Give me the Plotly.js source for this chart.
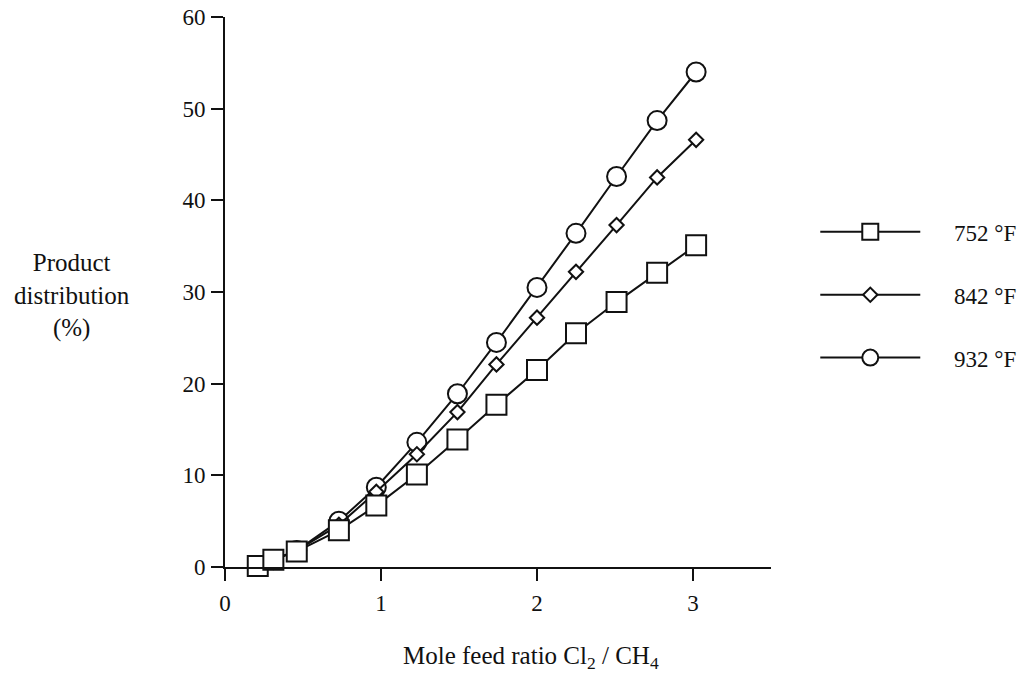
<!DOCTYPE html>
<html>
<head>
<meta charset="utf-8">
<script src="https://cdn.plot.ly/plotly-3.0.1.min.js"></script>
<style>html,body{margin:0;padding:0;background:#fff;}#chart{width:1032px;height:683px;}</style>
</head>
<body>
<div id="chart"></div>
<script>
// Mole feed ratio Cl2/CH4
const ratio = [0.21, 0.31, 0.46, 0.73, 0.97, 1.23, 1.49, 1.74, 2.00, 2.25, 2.51, 2.77, 3.02];
// Product distribution (%)
const dist752 = [0.1, 0.8, 1.7, 4.0, 6.7, 10.1, 13.9, 17.7, 21.5, 25.5, 28.9, 32.1, 35.1];
const dist842 = [0.1, 0.8, 1.8, 4.6, 8.2, 12.3, 16.9, 22.1, 27.2, 32.2, 37.3, 42.5, 46.6];
const dist932 = [0.1, 0.8, 1.8, 5.0, 8.7, 13.6, 18.9, 24.5, 30.5, 36.4, 42.6, 48.7, 54.0];
const seriesNames = ['752 °F', '842 °F', '932 °F'];
const xTicks = [0, 1, 2, 3];
const yTicks = [0, 10, 20, 30, 40, 50, 60];
const xTitle = 'Mole feed ratio Cl<sub>2</sub> / CH<sub>4</sub>';
const yTitle = 'Product<br>distribution<br>(%)';

const FONT = 'Liberation Serif, Times New Roman, serif';
const PAD = '\u00a0\u00a0\u00a0\u00a0\u00a0';
const mk = (sym, size) => ({symbol: sym, size: size, color: '#fff', line: {color: '#111', width: 2}});
const ln = {color: '#111', width: 2};

// drawn 932 first so the squares sit on top, as in the reference
const traces = [
  {x: ratio, y: dist932, name: PAD + seriesNames[2], legendgroup: 'c', legendrank: 3, mode: 'lines+markers',
   line: ln, marker: mk('circle', 19), cliponaxis: false},
  {x: ratio, y: dist842, name: PAD + seriesNames[1], legendgroup: 'b', legendrank: 2, mode: 'lines+markers',
   line: ln, marker: mk('diamond', 11), cliponaxis: false},
  {x: ratio, y: dist752, name: PAD + seriesNames[0], legendgroup: 'a', legendrank: 1, mode: 'lines+markers',
   line: ln, marker: mk('square', 20), cliponaxis: false}
];

const layout = {
  width: 1032, height: 683,
  paper_bgcolor: '#fff', plot_bgcolor: '#fff',
  margin: {l: 225, r: 261, t: 17, b: 116},
  font: {family: FONT, color: '#111', size: 23},
  showlegend: true,
  legend: {xref: 'container', yref: 'container', x: 0.79, y: 0.692, xanchor: 'left', yanchor: 'top',
    font: {family: FONT, size: 23, color: '#111'}, itemwidth: 100, tracegroupgap: 30,
    bgcolor: 'rgba(0,0,0,0)', traceorder: 'grouped'},
  xaxis: {range: [0, 3.5], tickvals: xTicks, ticktext: xTicks.map(String),
    showline: true, linecolor: '#111', linewidth: 2, ticks: 'outside', ticklen: 12, tickwidth: 2, tickcolor: '#111',
    showgrid: false, zeroline: false, tickfont: {family: FONT, size: 23}, ticklabelstandoff: 2},
  yaxis: {range: [0, 60], tickvals: yTicks, ticktext: yTicks.map(String),
    showline: true, linecolor: '#111', linewidth: 2, ticks: 'outside', ticklen: 12, tickwidth: 2, tickcolor: '#111',
    showgrid: false, zeroline: false, tickfont: {family: FONT, size: 23}, ticklabelstandoff: 1},
  annotations: [
    {xref: 'paper', yref: 'y', x: -0.28, y: 29.6, xanchor: 'center', yanchor: 'middle',
     text: yTitle, showarrow: false, align: 'center', font: {family: FONT, size: 25, color: '#111'}},
    {xref: 'paper', yref: 'paper', x: 0.56, y: -0.165, xanchor: 'center', yanchor: 'middle',
     text: xTitle, showarrow: false, align: 'center', font: {family: FONT, size: 25, color: '#111'}}
  ]
};

Plotly.newPlot('chart', traces, layout, {displayModeBar: false, staticPlot: true});
</script>
</body>
</html>
